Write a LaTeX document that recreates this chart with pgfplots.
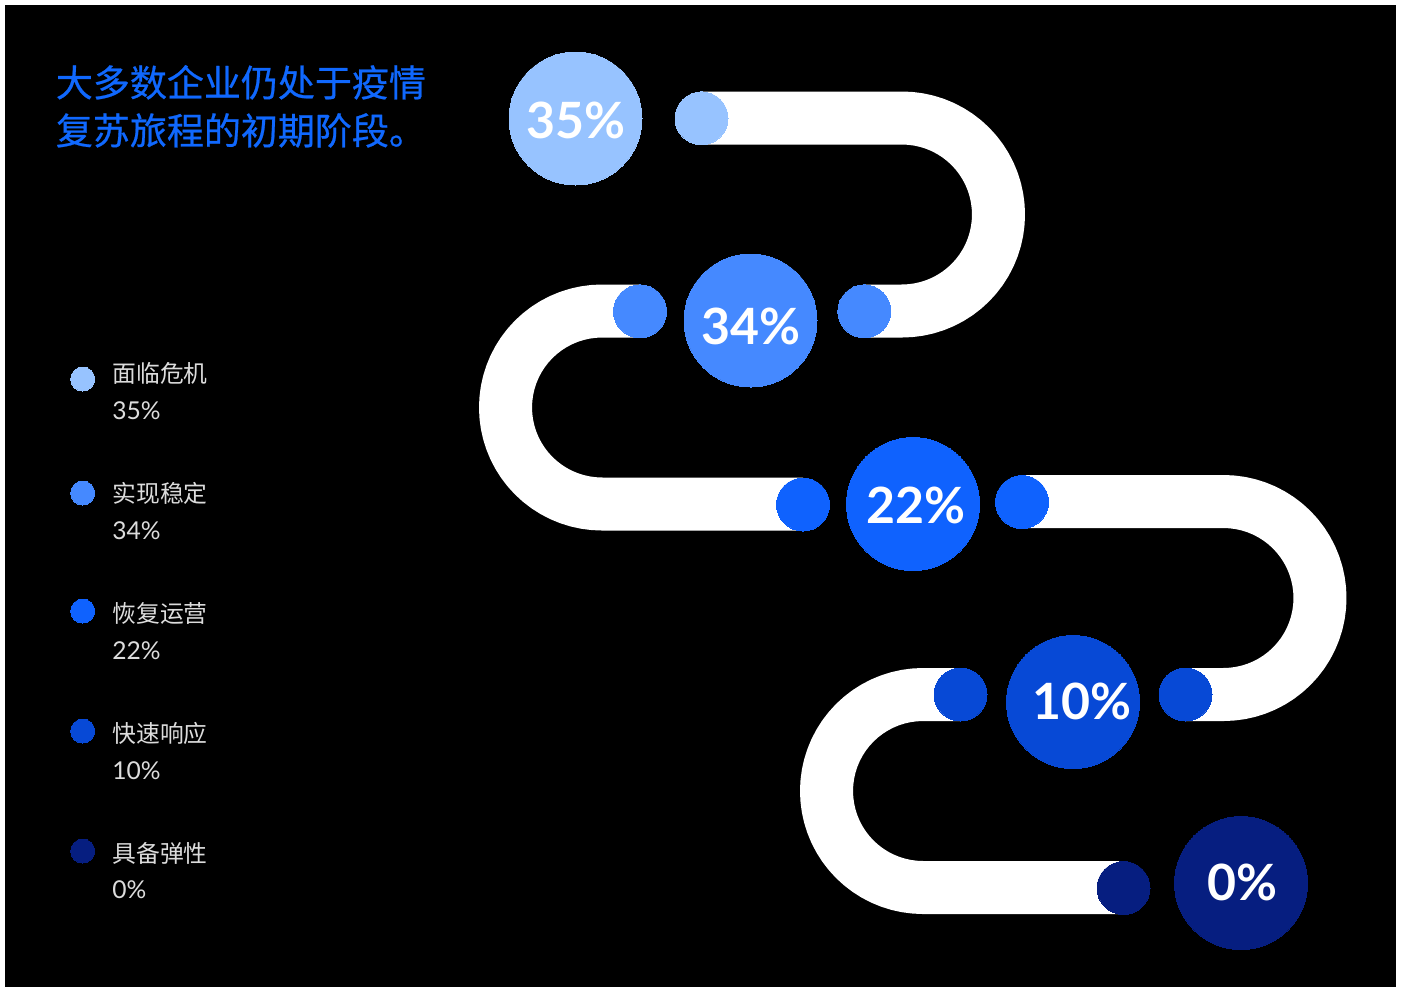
\documentclass[border=0pt]{standalone}
\usepackage{fontspec}
\setmainfont{Lato}
\newfontfamily\cjk{Noto Sans CJK SC}
\newfontfamily\cjkt[FakeBold=0.6]{Noto Sans CJK SC}
\usepackage{pgfplots}
\pgfplotsset{compat=1.18}
\definecolor{c1}{HTML}{97C3FF}
\definecolor{c2}{HTML}{4589FF}
\definecolor{c3}{HTML}{0F62FE}
\definecolor{c4}{HTML}{0749D6}
\definecolor{c5}{HTML}{061E80}
\definecolor{ttl}{HTML}{1068FE}
\definecolor{lg}{HTML}{DCDCDC}
\begin{document}
\begin{tikzpicture}
\begin{axis}[width=701.5pt, height=493.5pt, scale only axis,
  xmin=0, xmax=1403, ymin=0, ymax=987, y dir=reverse,
  axis lines=none, ticks=none, clip=false]
% background
\addplot[fill=white, draw=none] coordinates {(0,0) (1403,0) (1403,987) (0,987)} -- cycle;
\addplot[fill=black, draw=none] coordinates {(5,5) (1396,5) (1396,987) (5,987)} -- cycle;
% white band
\pgfplotsset{band/.style={white, line width=26.5pt, line join=round, line cap=butt, mark=none}}
\addplot[band] coordinates {(701.5,118) (902,118) (910.41,118.37) (918.76,119.47) (926.98,121.29) (935.01,123.82) (942.78,127.04) (950.25,130.93) (957.35,135.45) (964.03,140.58) (970.24,146.26) (975.92,152.47) (981.05,159.15) (985.57,166.25) (989.46,173.72) (992.68,181.50) (995.21,189.52) (997.03,197.74) (998.13,206.09) (998.5,214.5) (998.13,222.91) (997.03,231.26) (995.21,239.48) (992.68,247.51) (989.46,255.28) (985.57,262.75) (981.05,269.85) (975.92,276.53) (970.24,282.74) (964.03,288.42) (957.35,293.55) (950.25,298.07) (942.78,301.96) (935.01,305.18) (926.98,307.71) (918.76,309.53) (910.41,310.63) (902,311) (864,311)};
\addplot[band] coordinates {(640,311) (602,311) (593.59,311.37) (585.24,312.47) (577.02,314.29) (568.99,316.82) (561.22,320.04) (553.75,323.93) (546.65,328.45) (539.97,333.58) (533.76,339.26) (528.08,345.47) (522.95,352.15) (518.43,359.25) (514.54,366.72) (511.32,374.50) (508.79,382.52) (506.97,390.74) (505.87,399.09) (505.5,407.5) (505.87,415.91) (506.97,424.26) (508.79,432.48) (511.32,440.51) (514.54,448.28) (518.43,455.75) (522.95,462.85) (528.08,469.53) (533.76,475.74) (539.97,481.42) (546.65,486.55) (553.75,491.07) (561.22,494.96) (568.99,498.18) (577.02,500.71) (585.24,502.53) (593.59,503.63) (602,504) (803,504)};
\addplot[band] coordinates {(1022,501.5) (1223.5,501.5) (1231.91,501.87) (1240.26,502.97) (1248.48,504.79) (1256.51,507.32) (1264.28,510.54) (1271.75,514.43) (1278.85,518.95) (1285.53,524.08) (1291.74,529.76) (1297.42,535.97) (1302.55,542.65) (1307.07,549.75) (1310.96,557.22) (1314.18,565.00) (1316.71,573.02) (1318.53,581.24) (1319.63,589.59) (1320,598) (1319.63,606.41) (1318.53,614.76) (1316.71,622.98) (1314.18,631.01) (1310.96,638.78) (1307.07,646.25) (1302.55,653.35) (1297.42,660.03) (1291.74,666.24) (1285.53,671.92) (1278.85,677.05) (1271.75,681.57) (1264.28,685.46) (1256.51,688.68) (1248.48,691.21) (1240.26,693.03) (1231.91,694.13) (1223.5,694.5) (1185.5,694.5)};
\addplot[band] coordinates {(960.5,694.5) (923,694.5) (914.59,694.87) (906.24,695.97) (898.02,697.79) (889.99,700.32) (882.22,703.54) (874.75,707.43) (867.65,711.95) (860.97,717.08) (854.76,722.76) (849.08,728.97) (843.95,735.65) (839.43,742.75) (835.54,750.22) (832.32,758.00) (829.79,766.02) (827.97,774.24) (826.87,782.59) (826.5,791) (826.87,799.41) (827.97,807.76) (829.79,815.98) (832.32,824.01) (835.54,831.78) (839.43,839.25) (843.95,846.35) (849.08,853.03) (854.76,859.24) (860.97,864.92) (867.65,870.05) (874.75,874.57) (882.22,878.46) (889.99,881.68) (898.02,884.21) (906.24,886.03) (914.59,887.13) (923,887.5) (1123.5,887.5)};
% small circles
\pgfplotsset{sm/.style={only marks, mark=*, mark size=13.25pt, mark options={line width=0pt}}}
\addplot[sm, c1] coordinates {(701.5,118.3)};
\addplot[sm, c2] coordinates {(640,311.3) (864.3,311.3)};
\addplot[sm, c3] coordinates {(803,504.5) (1022,502)};
\addplot[sm, c4] coordinates {(960.5,694.5) (1185.5,694.5)};
\addplot[sm, c5] coordinates {(1123.5,888)};
% big circles
\pgfplotsset{bg/.style={only marks, mark=*, mark size=33.25pt, mark options={line width=0pt}}}
\addplot[bg, c1] coordinates {(575.5,118.5)};
\addplot[bg, c2] coordinates {(750.5,320.5)};
\addplot[bg, c3] coordinates {(913,504)};
\addplot[bg, c4] coordinates {(1073,702)};
\addplot[bg, c5] coordinates {(1241,883)};
% legend dots
\pgfplotsset{ld/.style={only marks, mark=*, mark size=6pt, mark options={line width=0pt}}}
\addplot[ld, c1] coordinates {(82.7,379)};
\addplot[ld, c2] coordinates {(82.7,493)};
\addplot[ld, c3] coordinates {(82.7,611)};
\addplot[ld, c4] coordinates {(82.7,731)};
\addplot[ld, c5] coordinates {(82.7,851)};
% anchors for big numbers
\coordinate (b1) at (axis cs:575.5,139);
\coordinate (b2) at (axis cs:750.5,345);
\coordinate (b3) at (axis cs:915.5,523);
\coordinate (b4) at (axis cs:1082,719);
\coordinate (b5) at (axis cs:1242.5,900);
% title
\tikzset{tt/.style={anchor=base west, inner sep=0pt, text=ttl, font=\fontsize{18.5}{22}\cjkt}}
\node[tt] at (axis cs:55.5,96.5) {大多数企业仍处于疫情};
\node[tt] at (axis cs:55.5,144.5) {复苏旅程的初期阶段。};
% legend text
\tikzset{lt/.style={anchor=base west, inner sep=0pt, text=lg, font=\fontsize{11.9}{14}\cjk},
  ln/.style={anchor=base west, inner sep=0pt, text=lg, font=\fontsize{12.3}{14}\selectfont}}
\node[lt] at (axis cs:112,382) {面临危机};
\node[ln] at (axis cs:112,419) {35\%};
\node[lt] at (axis cs:112,502) {实现稳定};
\node[ln] at (axis cs:112,539) {34\%};
\node[lt] at (axis cs:112,622) {恢复运营};
\node[ln] at (axis cs:112,659) {22\%};
\node[lt] at (axis cs:112,742) {快速响应};
\node[ln] at (axis cs:112,779) {10\%};
\node[lt] at (axis cs:112,862) {具备弹性};
\node[ln] at (axis cs:112,898) {0\%};
\end{axis}
\tikzset{bn/.style={anchor=base, inner sep=0pt, text=white, font=\fontsize{25}{28}\selectfont\bfseries}}
\node[bn] at (b1) {35\%};
\node[bn] at (b2) {34\%};
\node[bn] at (b3) {22\%};
\node[bn] at (b4) {10\%};
\node[bn] at (b5) {0\%};
\end{tikzpicture}
\end{document}
